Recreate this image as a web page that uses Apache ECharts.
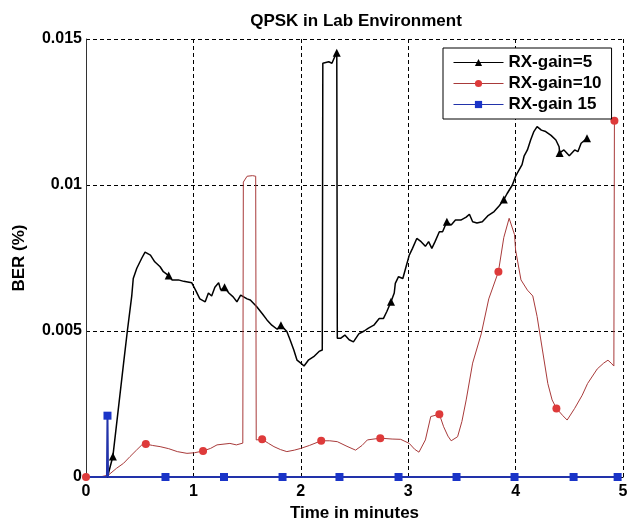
<!DOCTYPE html>
<html>
<head>
<meta charset="utf-8">
<script src="https://cdn.jsdelivr.net/npm/echarts@6/dist/echarts.min.js"></script>
<style>
  html, body { margin: 0; padding: 0; background: #fff; }
  #chart { width: 627px; height: 518px; }
</style>
</head>
<body>
<div id="chart"></div>
<script>
  // tick labels
  var xTicks = [0, 1, 2, 3, 4, 5];
  var yTicks = [0, 0.005, 0.01, 0.015];
  var seriesNames = ['RX-gain=5', 'RX-gain=10', 'RX-gain 15'];

  // RX-gain=5 : [time, BER]
  var gain5 = [[0.2, 0], [0.25, 0.0007], [0.3, 0.0023], [0.35, 0.0039], [0.385, 0.005], [0.426, 0.0062],
    [0.44, 0.0068], [0.473, 0.00715], [0.52, 0.0075], [0.55, 0.0077], [0.6, 0.0076], [0.64, 0.00737],
    [0.69, 0.0072], [0.72, 0.00703], [0.77, 0.0069], [0.8, 0.00675], [0.86, 0.00675], [0.91, 0.0067],
    [0.985, 0.00665], [1.02, 0.0064], [1.06, 0.0061], [1.11, 0.006], [1.14, 0.0063], [1.17, 0.0062],
    [1.2, 0.0065], [1.235, 0.00665], [1.255, 0.0064], [1.29, 0.0065], [1.33, 0.0063], [1.37, 0.00617],
    [1.405, 0.006], [1.44, 0.00623], [1.5, 0.0061], [1.53, 0.00606], [1.59, 0.00583], [1.64, 0.0056],
    [1.685, 0.00538], [1.73, 0.0052], [1.78, 0.00506], [1.815, 0.0052], [1.87, 0.00498], [1.9, 0.0047],
    [1.935, 0.00435], [1.965, 0.004], [2.0, 0.0039], [2.03, 0.0038], [2.07, 0.004], [2.12, 0.00412],
    [2.17, 0.0043], [2.2, 0.00435], [2.205, 0.01417], [2.26, 0.01422], [2.29, 0.01417], [2.31, 0.01434],
    [2.335, 0.01453], [2.34, 0.00475], [2.37, 0.00475], [2.41, 0.00486], [2.45, 0.0047], [2.49, 0.00463],
    [2.54, 0.0049], [2.59, 0.005], [2.63, 0.0051], [2.68, 0.0052], [2.73, 0.00543], [2.77, 0.00543],
    [2.8, 0.00566], [2.84, 0.006], [2.87, 0.0063], [2.88, 0.00663], [2.91, 0.00686], [2.95, 0.0068],
    [2.98, 0.0072], [3.01, 0.0076], [3.04, 0.00783], [3.08, 0.00817], [3.12, 0.00806], [3.16, 0.0079],
    [3.19, 0.00806], [3.22, 0.00783], [3.25, 0.00806], [3.29, 0.0084], [3.32, 0.0084], [3.36, 0.00874],
    [3.4, 0.00863], [3.44, 0.0088], [3.49, 0.0088], [3.54, 0.0089], [3.57, 0.009], [3.6, 0.00874],
    [3.64, 0.0087], [3.69, 0.00874], [3.74, 0.00894], [3.8, 0.00909], [3.85, 0.0093], [3.89, 0.0095],
    [3.92, 0.0097], [3.97, 0.01], [4.0, 0.0103], [4.03, 0.0105], [4.06, 0.0107], [4.08, 0.011],
    [4.11, 0.0112], [4.14, 0.01154], [4.17, 0.01183], [4.2, 0.012], [4.24, 0.01188], [4.28, 0.01183],
    [4.33, 0.0117], [4.375, 0.01154], [4.405, 0.01131], [4.41, 0.0111], [4.45, 0.0112], [4.5, 0.011],
    [4.55, 0.0112], [4.58, 0.01114], [4.61, 0.01143], [4.665, 0.0116]];
  var gain5Marks = [0.25, 0.77, 1.29, 1.815, 2.335, 2.84, 3.36, 3.89, 4.41, 4.665];

  // RX-gain=10
  var gain10 = [[0, 0], [0.13, 0], [0.21, 0.00007], [0.285, 0.0003], [0.35, 0.00047], [0.41, 0.0007],
    [0.47, 0.00092], [0.52, 0.0011], [0.557, 0.00113], [0.62, 0.00108], [0.69, 0.00104], [0.77, 0.00097],
    [0.85, 0.00087], [0.94, 0.00081], [1.01, 0.00083], [1.09, 0.00089], [1.16, 0.00098], [1.22, 0.0011],
    [1.34, 0.00115], [1.4, 0.0011], [1.46, 0.00116], [1.465, 0.0101], [1.5, 0.0103], [1.55, 0.01032],
    [1.58, 0.0103], [1.585, 0.00127], [1.64, 0.00129], [1.7, 0.00115], [1.75, 0.00104], [1.81, 0.00094],
    [1.87, 0.00087], [1.94, 0.00092], [2.0, 0.00098], [2.08, 0.00108], [2.19, 0.00124], [2.27, 0.00124],
    [2.34, 0.00121], [2.43, 0.00105], [2.51, 0.00092], [2.57, 0.00108], [2.62, 0.00127], [2.74, 0.00133],
    [2.85, 0.0013], [2.93, 0.00129], [3.01, 0.00115], [3.06, 0.00095], [3.1, 0.00085], [3.16, 0.00127],
    [3.21, 0.00207], [3.29, 0.00215], [3.33, 0.00172], [3.37, 0.0014], [3.4, 0.00124], [3.46, 0.00138],
    [3.5, 0.0019], [3.54, 0.00264], [3.6, 0.0039], [3.68, 0.0049], [3.75, 0.0061], [3.84, 0.00703],
    [3.89, 0.0082], [3.94, 0.00886], [3.99, 0.0083], [4.0, 0.00777], [4.05, 0.00675], [4.11, 0.0064],
    [4.16, 0.0062], [4.2, 0.0055], [4.25, 0.00435], [4.3, 0.0032], [4.34, 0.00264], [4.38, 0.00235],
    [4.44, 0.0021], [4.48, 0.00195], [4.55, 0.00235], [4.62, 0.0028], [4.67, 0.0032], [4.76, 0.0037],
    [4.82, 0.0039], [4.86, 0.004], [4.89, 0.0039], [4.915, 0.0038], [4.92, 0.0122]];
  var gain10Marks = [0, 0.557, 1.09, 1.64, 2.19, 2.74, 3.29, 3.84, 4.38, 4.92];

  // RX-gain 15
  var gain15 = [[0, 0], [0.195, 0], [0.2, 0.0021], [0.205, 0], [0.74, 0], [1.285, 0], [1.83, 0],
    [2.36, 0], [2.91, 0], [3.45, 0], [3.99, 0], [4.54, 0], [4.95, 0]];
  var gain15Marks = [0.2, 0.74, 1.285, 1.83, 2.36, 2.91, 3.45, 3.99, 4.54, 4.95];

  var font = "'Liberation Sans', Arial, sans-serif";

  // only the sampled points get a marker, like the matlab plot
  function buildData(points, marks) {
    return points.map(function (p) {
      var isMark = marks.some(function (m) { return Math.abs(m - p[0]) < 1e-9; });
      return isMark ? {value: p} : {value: p, symbol: 'none'};
    });
  }

  var myChart = echarts.init(document.getElementById('chart'));
  var option = {
    animation: false,
    backgroundColor: '#fff',
    title: {
      text: 'QPSK in Lab Environment',
      left: 351,
      top: 8,
      textAlign: 'center',
      textStyle: {fontFamily: font, fontSize: 17, fontWeight: 'bold', color: '#000'}
    },
    legend: {
      data: seriesNames,
      orient: 'vertical',
      left: 443,
      top: 48,
      padding: [6, 10, 6, 10],
      itemGap: 4,
      itemWidth: 50,
      itemHeight: 9,
      backgroundColor: '#fff',
      borderColor: '#000',
      borderWidth: 1,
      lineStyle: {width: 1},
      textStyle: {fontFamily: font, fontSize: 17, fontWeight: 'bold', color: '#000'}
    },
    grid: {left: 86, right: 4, top: 39, bottom: 41, outerBoundsMode: 'none'},
    xAxis: {
      type: 'value',
      min: xTicks[0],
      max: xTicks[xTicks.length - 1],
      interval: xTicks[1] - xTicks[0],
      name: 'Time in minutes',
      nameLocation: 'middle',
      nameGap: 24,
      nameTextStyle: {fontFamily: font, fontSize: 17, fontWeight: 'bold', color: '#000'},
      axisLine: {lineStyle: {color: '#000', width: 1}},
      axisTick: {show: false},
      axisLabel: {margin: 7, fontFamily: font, fontSize: 16, fontWeight: 'bold', color: '#000'},
      splitLine: {lineStyle: {color: '#000', type: [4, 3], width: 1}}
    },
    yAxis: {
      type: 'value',
      min: yTicks[0],
      max: yTicks[yTicks.length - 1],
      interval: yTicks[1] - yTicks[0],
      name: 'BER (%)',
      nameLocation: 'middle',
      nameRotate: 90,
      nameGap: 58,
      nameTextStyle: {fontFamily: font, fontSize: 17, fontWeight: 'bold', color: '#000'},
      axisLine: {show: true, lineStyle: {color: '#333', width: 1}},
      axisTick: {show: false},
      axisLabel: {
        margin: 4, fontFamily: font, fontSize: 16, fontWeight: 'bold', color: '#000',
        formatter: function (v) { return String(+v.toFixed(4)); }
      },
      splitLine: {lineStyle: {color: '#000', type: [4, 3], width: 1}}
    },
    series: [
      {
        name: seriesNames[0],
        type: 'line',
        symbol: 'triangle',
        symbolSize: 8,
        showAllSymbol: true,
        lineStyle: {color: '#000', width: 1.5},
        itemStyle: {color: '#000'},
        data: buildData(gain5, gain5Marks)
      },
      {
        name: seriesNames[1],
        type: 'line',
        symbol: 'circle',
        symbolSize: 8,
        showAllSymbol: true,
        lineStyle: {color: '#a83a3a', width: 1},
        itemStyle: {color: '#de3a3a'},
        data: buildData(gain10, gain10Marks)
      },
      {
        name: seriesNames[2],
        type: 'line',
        symbol: 'rect',
        symbolSize: 8,
        showAllSymbol: true,
        lineStyle: {color: '#2233aa', width: 2},
        itemStyle: {color: '#1a34c8'},
        data: buildData(gain15, gain15Marks)
      }
    ]
  };
  myChart.setOption(option);
</script>
</body>
</html>
